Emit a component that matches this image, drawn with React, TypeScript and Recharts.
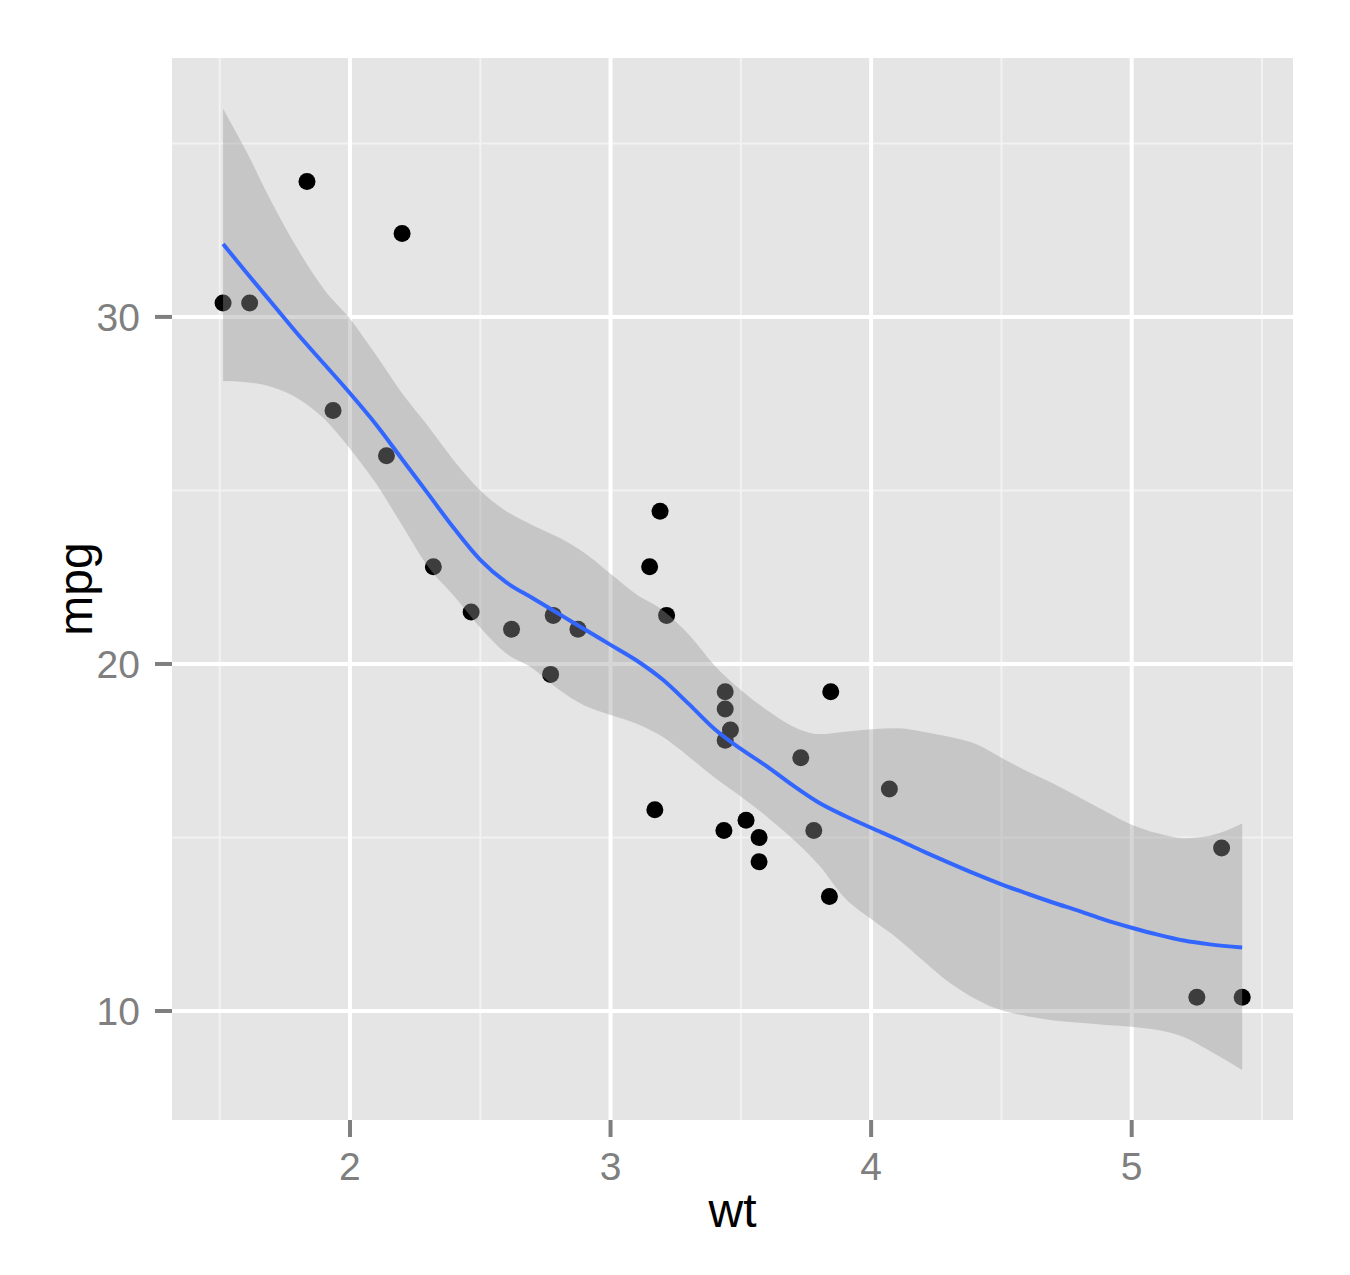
import { ComposedChart, Scatter, Area, Line, XAxis, YAxis, CartesianGrid, ReferenceLine, Label } from 'recharts';

// mtcars: weight (1000 lbs) vs miles per gallon
const carWt = [
  2.62, 2.875, 2.32, 3.215, 3.44, 3.46, 3.57, 3.19, 3.15, 3.44, 3.44, 4.07, 3.73, 3.78, 5.25, 5.424,
  5.345, 2.2, 1.615, 1.835, 2.465, 3.52, 3.435, 3.84, 3.845, 1.935, 2.14, 1.513, 3.17, 2.77, 3.57, 2.78,
];
const carMpg = [
  21.0, 21.0, 22.8, 21.4, 18.7, 18.1, 14.3, 24.4, 22.8, 19.2, 17.8, 16.4, 17.3, 15.2, 10.4, 10.4,
  14.7, 32.4, 30.4, 33.9, 21.5, 15.5, 15.2, 13.3, 19.2, 27.3, 26.0, 30.4, 15.8, 19.7, 15.0, 21.4,
];

// loess smoother
const smoothWt = [
  1.513, 1.6, 1.7, 1.8, 1.9, 2.0, 2.1, 2.2, 2.3, 2.4, 2.5, 2.6, 2.7, 2.8, 2.9, 3.0, 3.1, 3.2, 3.3, 3.4,
  3.5, 3.6, 3.7, 3.8, 3.9, 4.0, 4.1, 4.2, 4.3, 4.4, 4.5, 4.6, 4.7, 4.8, 4.9, 5.0, 5.1, 5.2, 5.3, 5.424,
];
const smoothFit = [
  32.1, 31.3, 30.4, 29.5, 28.65, 27.8, 26.9, 25.9, 24.9, 23.9, 23.0, 22.35, 21.9, 21.45, 21.0, 20.55, 20.1, 19.55, 18.85, 18.12,
  17.55, 17.05, 16.5, 16.0, 15.62, 15.28, 14.95, 14.6, 14.27, 13.95, 13.65, 13.38, 13.12, 12.88, 12.62, 12.4, 12.2, 12.03, 11.92, 11.83,
];
const smoothHi = [
  36.0, 34.8, 33.3, 31.95, 30.8, 29.95, 28.9, 27.8, 26.85, 25.85, 25.0, 24.4, 24.0, 23.65, 23.2, 22.6, 22.0, 21.55, 20.85, 19.95,
  19.25, 18.67, 18.2, 17.98, 18.05, 18.12, 18.15, 18.05, 17.9, 17.7, 17.3, 16.9, 16.55, 16.15, 15.75, 15.37, 15.12, 14.98, 15.05, 15.4,
];
const smoothLo = [
  28.15, 28.12, 27.98, 27.65, 27.07, 26.2, 25.2, 24.0, 22.8, 21.95, 21.05, 20.3, 19.88, 19.27, 18.8, 18.53, 18.28, 17.9, 17.33, 16.72,
  16.18, 15.6, 14.95, 14.2, 13.25, 12.65, 12.1, 11.45, 10.82, 10.35, 10.02, 9.85, 9.73, 9.66, 9.6, 9.55, 9.45, 9.25, 8.85, 8.3,
];

const xTicks = [2, 3, 4, 5];
const yTicks = [10, 20, 30];
const xMinor = [1.5, 2.5, 3.5, 4.5, 5.5];
const yMinor = [15, 25, 35];

const points = carWt.map((w, i) => ({ wt: w, mpg: carMpg[i] }));
const smooth = smoothWt.map((w, i) => ({ wt: w, fit: smoothFit[i], band: [smoothLo[i], smoothHi[i]] }));

const FONT = '"Liberation Sans", Arial, Helvetica, sans-serif';
const GREY = '#7F7F7F';
const W = 1350;
const H = 1275;
const MARGIN = { top: 58, right: 57, left: 0, bottom: 0 };
const X_DOMAIN = [1.317, 5.619];
const Y_DOMAIN = [6.86, 37.46];

const Dot = (props: any) => <circle cx={props.cx} cy={props.cy} r={8.5} fill="#000" />;

export default function App() {
  return (
    <div style={{ position: 'absolute', left: 0, top: 0, width: W, height: H, background: '#fff' }}>
      {/* bottom layer: panel, grid, axes, points */}
      <div style={{ position: 'absolute', left: 0, top: 0 }}>
        <ComposedChart width={W} height={H} data={points} margin={MARGIN}>
          <CartesianGrid horizontal={false} vertical={false} fill="#E5E5E5" stroke="none" />
          {xMinor.map((v) => (
            <ReferenceLine key={'xm' + v} x={v} stroke="#F2F2F2" strokeWidth={2} />
          ))}
          {yMinor.map((v) => (
            <ReferenceLine key={'ym' + v} y={v} stroke="#F2F2F2" strokeWidth={2} />
          ))}
          {xTicks.map((v) => (
            <ReferenceLine key={'xM' + v} x={v} stroke="#FFFFFF" strokeWidth={4} />
          ))}
          {yTicks.map((v) => (
            <ReferenceLine key={'yM' + v} y={v} stroke="#FFFFFF" strokeWidth={4} />
          ))}
          <XAxis
            type="number"
            dataKey="wt"
            domain={X_DOMAIN}
            ticks={xTicks}
            allowDataOverflow
            height={155}
            axisLine={false}
            tickLine={{ stroke: GREY, strokeWidth: 4 }}
            tickSize={17}
            tickMargin={15}
            tick={{ fill: GREY, fontSize: 39, fontFamily: FONT }}
          >
            <Label
              content={({ viewBox }: any) => (
                <text x={viewBox.x + viewBox.width / 2} y={1227} textAnchor="middle" fontSize={48} fontFamily={FONT} fill="#000">
                  wt
                </text>
              )}
            />
          </XAxis>
          <YAxis
            type="number"
            domain={Y_DOMAIN}
            ticks={yTicks}
            allowDataOverflow
            width={172}
            axisLine={false}
            tickLine={{ stroke: GREY, strokeWidth: 4 }}
            tickSize={17}
            tickMargin={15}
            tick={{ fill: GREY, fontSize: 39, fontFamily: FONT }}
          >
            <Label
              content={({ viewBox }: any) => {
                const cy = viewBox.y + viewBox.height / 2;
                return (
                  <text x={92} y={cy} transform={`rotate(-90 92 ${cy})`} textAnchor="middle" fontSize={48} fontFamily={FONT} fill="#000">
                    mpg
                  </text>
                );
              }}
            />
          </YAxis>
          <Scatter dataKey="mpg" shape={<Dot />} isAnimationActive={false} />
        </ComposedChart>
      </div>
      {/* top layer: loess ribbon and line drawn over the points */}
      <div style={{ position: 'absolute', left: 0, top: 0 }}>
        <ComposedChart width={W} height={H} data={smooth} margin={MARGIN}>
          <XAxis type="number" dataKey="wt" domain={X_DOMAIN} allowDataOverflow height={155} axisLine={false} tickLine={false} tick={false} />
          <YAxis type="number" domain={Y_DOMAIN} allowDataOverflow width={172} axisLine={false} tickLine={false} tick={false} />
          <Area type="monotone" dataKey="band" fill="#999999" fillOpacity={0.4} stroke="none" isAnimationActive={false} />
          <Line type="monotone" dataKey="fit" stroke="#3366FF" strokeWidth={4} dot={false} activeDot={false} isAnimationActive={false} />
        </ComposedChart>
      </div>
    </div>
  );
}
